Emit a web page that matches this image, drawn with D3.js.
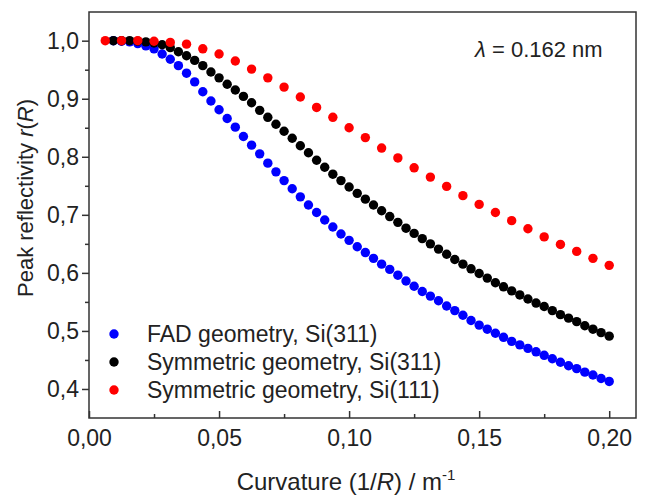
<!DOCTYPE html>
<html>
<head>
<meta charset="utf-8">
<script src="https://cdn.jsdelivr.net/npm/d3@7"></script>
<style>
  body { margin: 0; background: #fff; }
  svg { display: block; font-family: "Liberation Sans", Arial, sans-serif; }
</style>
</head>
<body>
<svg id="chart" width="646" height="498"></svg>
<script>
// ---- data ----
const stepFine = 0.003125;   // x step for FAD and symmetric Si(311)
const stepCoarse = 0.00625;  // x step for symmetric Si(111)

const fadSi311 = [
  1.000, 0.999, 0.998, 0.995, 0.991, 0.986, 0.977, 0.968, 0.957, 0.944,
  0.929, 0.912, 0.896, 0.881, 0.866, 0.851, 0.835, 0.820, 0.805, 0.789,
  0.774, 0.759, 0.745, 0.731, 0.717, 0.704, 0.691, 0.679, 0.667, 0.656,
  0.645, 0.635, 0.625, 0.615, 0.606, 0.596, 0.586, 0.577, 0.568, 0.560,
  0.552, 0.543, 0.535, 0.527, 0.518, 0.510, 0.503, 0.496, 0.489, 0.482,
  0.476, 0.470, 0.464, 0.458, 0.452, 0.446, 0.440, 0.435, 0.429, 0.424,
  0.418, 0.413
]; // x = k*0.003125, k = 3..64

const symSi311 = [
  1.000, 1.000, 1.000, 0.999, 0.998, 0.996, 0.993, 0.988, 0.981, 0.974,
  0.966, 0.957, 0.946, 0.936, 0.925, 0.915, 0.904, 0.893, 0.880, 0.868,
  0.856, 0.844, 0.832, 0.819, 0.807, 0.794, 0.782, 0.770, 0.759, 0.748,
  0.737, 0.727, 0.717, 0.707, 0.697, 0.687, 0.677, 0.668, 0.659, 0.650,
  0.641, 0.632, 0.623, 0.615, 0.607, 0.599, 0.591, 0.583, 0.576, 0.569,
  0.562, 0.555, 0.548, 0.542, 0.535, 0.528, 0.522, 0.516, 0.509, 0.503,
  0.497, 0.491
]; // x = k*0.003125, k = 3..64

const symSi111 = [
  1.000, 1.000, 1.000, 0.999, 0.997, 0.994, 0.986, 0.977, 0.965, 0.951,
  0.936, 0.920, 0.903, 0.885, 0.868, 0.850, 0.833, 0.815, 0.798, 0.781,
  0.765, 0.749, 0.733, 0.718, 0.704, 0.690, 0.676, 0.662, 0.649, 0.637,
  0.625, 0.613
]; // x = k*0.00625, k = 1..32

const yTicks = [0.4, 0.5, 0.6, 0.7, 0.8, 0.9, 1.0];
const xTicks = [0.00, 0.05, 0.10, 0.15, 0.20];
const seriesNames = ["FAD geometry, Si(311)", "Symmetric geometry, Si(311)", "Symmetric geometry, Si(111)"];
const seriesColors = ["#0000ff", "#000000", "#ff0000"];

// ---- build series ----
const series = [
  { name: seriesNames[0], color: seriesColors[0], pts: fadSi311.map((v, i) => [(i + 3) * stepFine, v]) },
  { name: seriesNames[1], color: seriesColors[1], pts: symSi311.map((v, i) => [(i + 3) * stepFine, v]) },
  { name: seriesNames[2], color: seriesColors[2], pts: symSi111.map((v, i) => [(i + 1) * stepCoarse, v]) }
];

// ---- layout ----
const L = 89, R = 636, T = 12, B = 418;
const svg = d3.select("#chart");
const x = d3.scaleLinear().domain([0, 0.2103]).range([L, R]);
const y = d3.scaleLinear().domain([0.35, 1.0494]).range([B, T]);
const axisColor = "#333";
const fs = 23;
const rDot = 4.7;
const comma = f => v => d3.format(f)(v).replace(".", ",");

// points
series.forEach(s => {
  svg.append("g").selectAll("circle").data(s.pts).join("circle")
    .attr("cx", d => x(d[0])).attr("cy", d => y(d[1]))
    .attr("r", rDot).attr("fill", s.color);
});

// frame
svg.append("rect").attr("x", L).attr("y", T).attr("width", R - L).attr("height", B - T)
  .attr("fill", "none").attr("stroke", axisColor).attr("stroke-width", 1.5);

// x axis (ticks inward)
const xAxis = svg.append("g").attr("transform", `translate(0,${B})`)
  .call(d3.axisBottom(x).tickValues(xTicks).tickFormat(comma(".2f")).tickSizeInner(-7).tickSizeOuter(0).tickPadding(12));
const xMinor = svg.append("g").attr("transform", `translate(0,${B})`)
  .call(d3.axisBottom(x).tickValues([0.025, 0.075, 0.125, 0.175]).tickFormat("").tickSizeInner(-4).tickSizeOuter(0));

// y axis (ticks outward)
const yAxis = svg.append("g").attr("transform", `translate(${L},0)`)
  .call(d3.axisLeft(y).tickValues(yTicks).tickFormat(comma(".1f")).tickSize(7).tickPadding(3));
const yMinor = svg.append("g").attr("transform", `translate(${L},0)`)
  .call(d3.axisLeft(y).tickValues([0.45, 0.55, 0.65, 0.75, 0.85, 0.95]).tickFormat("").tickSize(4));

[xAxis, xMinor, yAxis, yMinor].forEach(g => {
  g.select(".domain").remove();
  g.selectAll("line").attr("stroke", axisColor).attr("stroke-width", 1.5);
  g.selectAll("text").attr("fill", "#222").style("font-size", fs + "px").attr("font-family", null);
});

// axis titles
const xt = svg.append("text").attr("x", 346).attr("y", 490).attr("text-anchor", "middle")
  .style("font-size", "24px").attr("fill", "#222");
xt.append("tspan").text("Curvature (1/");
xt.append("tspan").attr("font-style", "italic").text("R");
xt.append("tspan").text(") / m");
xt.append("tspan").attr("dy", -10).style("font-size", "15px").text("-1");

const yt = svg.append("text").attr("transform", "translate(33,198) rotate(-90)").attr("text-anchor", "middle")
  .style("font-size", "22px").attr("fill", "#222");
yt.append("tspan").text("Peak reflectivity ");
yt.append("tspan").attr("font-style", "italic").text("r");
yt.append("tspan").text("(");
yt.append("tspan").attr("font-style", "italic").text("R");
yt.append("tspan").text(")");

// wavelength annotation
const lt = svg.append("text").attr("x", 475).attr("y", 57).style("font-size", "22px").attr("fill", "#222");
lt.append("tspan").attr("font-style", "italic").text("λ");
lt.append("tspan").text(" = 0.162 nm");

// legend
const legY = [334, 362, 390];
series.forEach((s, i) => {
  svg.append("circle").attr("cx", 114).attr("cy", legY[i]).attr("r", rDot).attr("fill", s.color);
  svg.append("text").attr("x", 147).attr("y", legY[i]).attr("dy", "0.35em")
    .style("font-size", fs + "px").attr("fill", "#222").text(s.name);
});
</script>
</body>
</html>
